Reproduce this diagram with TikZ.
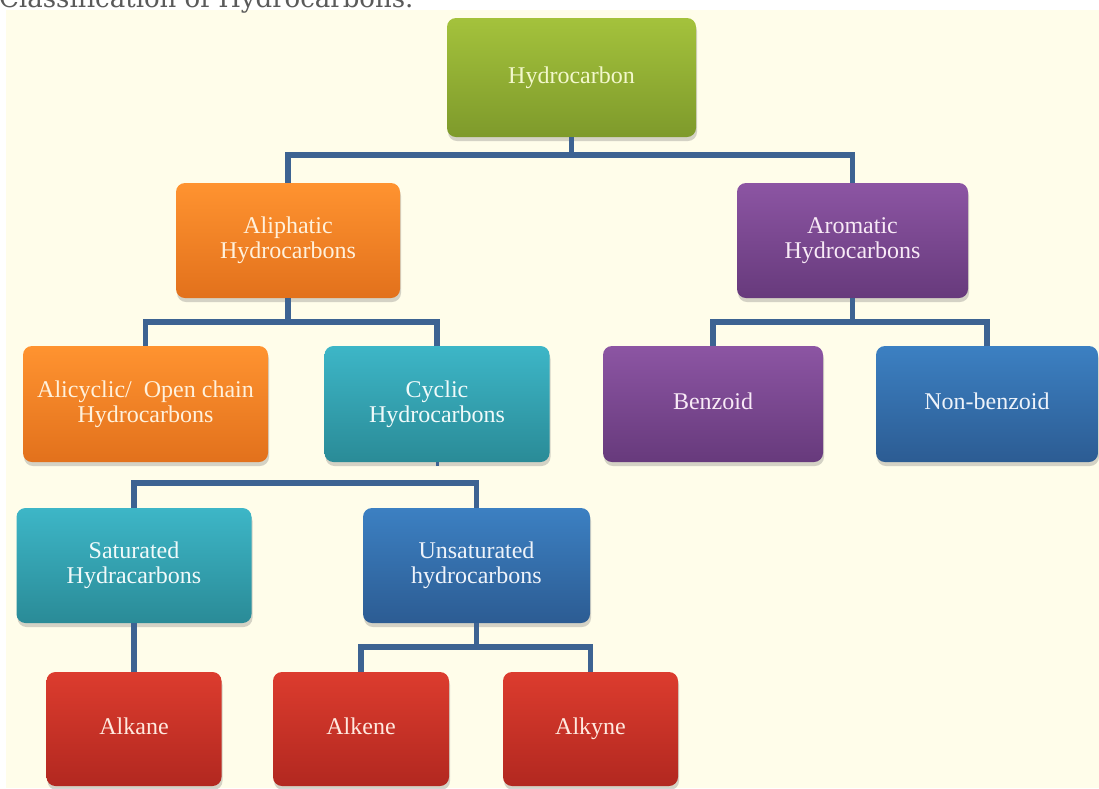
\documentclass[tikz,border=0pt]{standalone}
\usepackage{fontspec}
\setmainfont{Liberation Serif}
\newfontfamily\titlefont{DejaVu Serif}
\usetikzlibrary{shadows}
\definecolor{cream}{HTML}{FFFDEA}
\definecolor{titleC}{HTML}{5A5A5A}
\definecolor{connC}{HTML}{3D6392}
\definecolor{gTop}{HTML}{A4C23C}\definecolor{gBot}{HTML}{7E9A2B}\definecolor{gTxt}{HTML}{F3F8CC}
\definecolor{oTop}{HTML}{FF9330}\definecolor{oBot}{HTML}{E2711C}\definecolor{oTxt}{HTML}{FFF1DC}
\definecolor{pTop}{HTML}{8C55A3}\definecolor{pBot}{HTML}{673A7C}\definecolor{pTxt}{HTML}{F8EAF6}
\definecolor{tTop}{HTML}{3DB6C7}\definecolor{tBot}{HTML}{2A8B97}\definecolor{tTxt}{HTML}{F0FAFA}
\definecolor{bTop}{HTML}{3C80C2}\definecolor{bBot}{HTML}{2C5C93}\definecolor{bTxt}{HTML}{EEF3FA}
\definecolor{rTop}{HTML}{DC3C2E}\definecolor{rBot}{HTML}{B22820}\definecolor{rTxt}{HTML}{FFE9DF}
\tikzset{
  boxbase/.style={rectangle, rounded corners=9pt, inner sep=2pt, align=center,
    font=\fontsize{24}{25}\selectfont,
    drop shadow={shadow xshift=1pt, shadow yshift=-4pt, opacity=0.28, fill=black!60}},
  oneline/.style={text height=16pt, text depth=5pt},
  greenbox/.style={boxbase, top color=gTop, bottom color=gBot, text=gTxt},
  orangebox/.style={boxbase, top color=oTop, bottom color=oBot, text=oTxt},
  purplebox/.style={boxbase, top color=pTop, bottom color=pBot, text=pTxt},
  tealbox/.style={boxbase, top color=tTop, bottom color=tBot, text=tTxt},
  bluebox/.style={boxbase, top color=bTop, bottom color=bBot, text=bTxt},
  redbox/.style={boxbase, top color=rTop, bottom color=rBot, text=rTxt},
  conn/.style={line width=5.5pt, draw=connC},
}
\begin{document}
\begin{tikzpicture}[x=1pt,y=-1pt]
\clip (0,0) rectangle (1099,788);
\fill[white] (0,0) rectangle (1099,788);
\fill[cream] (6,10) rectangle (1099,788);
\node[anchor=base west, inner sep=0, text=titleC, font=\titlefont\fontsize{26}{26}\selectfont] (title) at (-1,7) {Classification of Hydrocarbons.};

% connector junctions
\coordinate (b1) at (572,155);
\coordinate (b2) at (288,322);
\coordinate (b3) at (852,322);
\coordinate (b4) at (305,483);
\coordinate (b5) at (476,647);

% nodes
\node[greenbox, oneline, minimum width=249, minimum height=119] (hc) at (571.5,77.5) {Hydrocarbon};
\node[orangebox, minimum width=224, minimum height=115] (ali) at (288,240.5) {Aliphatic\\Hydrocarbons};
\node[purplebox, minimum width=231, minimum height=115] (aro) at (852.5,240.5) {Aromatic\\Hydrocarbons};
\node[orangebox, minimum width=245, minimum height=116] (alc) at (145.5,404) {Alicyclic/~ Open chain\\Hydrocarbons};
\node[tealbox, minimum width=225, minimum height=116] (cyc) at (437,404) {Cyclic\\Hydrocarbons};
\node[purplebox, oneline, minimum width=220, minimum height=116] (ben) at (713,404) {Benzoid};
\node[bluebox, oneline, minimum width=222, minimum height=116] (nbz) at (987,404) {Non-benzoid};
\node[tealbox, minimum width=235, minimum height=115] (sat) at (134,565.5) {Saturated\\Hydracarbons};
\node[bluebox, minimum width=227, minimum height=115] (uns) at (476.5,565.5) {Unsaturated\\hydrocarbons};
\node[redbox, oneline, minimum width=175, minimum height=114] (alk) at (134,729) {Alkane};
\node[redbox, oneline, minimum width=176, minimum height=114] (ake) at (361,729) {Alkene};
\node[redbox, oneline, minimum width=175, minimum height=114] (aky) at (590.5,729) {Alkyne};

\draw[conn] (hc.south) -- (hc.south |- b1);
\draw[conn] (ali.north) |- (b1) -| (aro.north);
\draw[conn] (ali.south) -- (ali.south |- b2);
\draw[conn] (alc.north) |- (b2) -| (cyc.north);
\draw[conn] (aro.south) -- (aro.south |- b3);
\draw[conn] (ben.north) |- (b3) -| (nbz.north);
\draw[conn, line width=3pt] (cyc.south) -- ++(0,4);
\draw[conn] (sat.north) |- (b4) -| (uns.north);
\draw[conn] (sat.south) -- (alk.north);
\draw[conn] (uns.south) -- (uns.south |- b5);
\draw[conn] (ake.north) |- (b5) -| (aky.north);
\end{tikzpicture}
\end{document}
